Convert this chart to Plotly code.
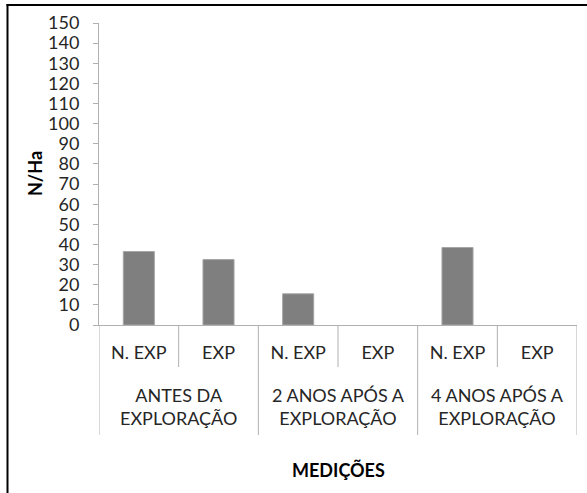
import plotly.graph_objects as go

group_labels = ["ANTES DA<br>EXPLORAÇÃO", "2 ANOS APÓS A<br>EXPLORAÇÃO", "4 ANOS APÓS A<br>EXPLORAÇÃO"]
subcats = ["N. EXP", "EXP", "N. EXP", "EXP", "N. EXP", "EXP"]
values = [36.5, 32.5, 15.5, 0, 38.5, 0]
y_ticks = list(range(0, 151, 10))

W, H = 587, 493
L, R, T, B = 99, 10, 23, 168
pw, ph = W - L - R, H - T - B

def px(x):
    return (x - L) / pw

def py(y):
    return (H - B - y) / ph

FONT = "Lato"
axis_col = "#b0b0b0"
text_col = "#262626"

n = len(subcats)
per_group = n // len(group_labels)
x_pos = list(range(n))

fig = go.Figure(go.Bar(
    x=x_pos, y=values,
    marker=dict(color="#7f7f7f",
                line=dict(color="#a6a6a6", width=[1 if v > 0 else 0 for v in values])),
    width=0.39,
    hoverinfo="skip",
))

shapes = []
# category boundaries
for i in range(n + 1):
    is_group = i % per_group == 0
    shapes.append(dict(type="line", xref="x", yref="paper", x0=i - 0.5, x1=i - 0.5,
                       y0=0, y1=py(435 if is_group else 367),
                       line=dict(color=axis_col, width=1)))
# outer frame (left and top edges only, as in the reference crop)
shapes.append(dict(type="line", xref="paper", yref="paper", x0=px(7.5), x1=px(7.5),
                   y0=py(4), y1=py(H + 2), line=dict(color="black", width=2)))
shapes.append(dict(type="line", xref="paper", yref="paper", x0=px(6.5), x1=px(W + 2),
                   y0=py(5), y1=py(5), line=dict(color="black", width=2)))

annotations = []
for g, lab in enumerate(group_labels):
    annotations.append(dict(text=lab, x=g * per_group + (per_group - 1) / 2, xref="x",
                            y=py(406.5), yref="paper", showarrow=False,
                            font=dict(family=FONT, size=18, color=text_col),
                            xanchor="center", yanchor="middle"))
annotations.append(dict(text="<b>N/Ha</b>", x=px(35), y=0.5, xref="paper", yref="paper",
                        textangle=-90, showarrow=False,
                        font=dict(family=FONT, size=18, color="#000"),
                        xanchor="center", yanchor="middle"))
annotations.append(dict(text="<b>MEDIÇÕES</b>", x=0.5, y=py(470), xref="paper", yref="paper",
                        showarrow=False, font=dict(family=FONT, size=18, color="#000"),
                        xanchor="center", yanchor="middle"))

fig.update_layout(
    width=W, height=H,
    margin=dict(l=L, r=R, t=T, b=B, autoexpand=False),
    paper_bgcolor="white", plot_bgcolor="white",
    showlegend=False,
    font=dict(family=FONT, size=18, color=text_col),
    xaxis=dict(
        range=[-0.5, n - 0.5], tickvals=x_pos, ticktext=subcats,
        showline=True, linecolor=axis_col, linewidth=1,
        ticks="", ticklabelstandoff=11,
        tickfont=dict(family=FONT, size=18, color=text_col),
        showgrid=False, zeroline=False, automargin=False,
    ),
    yaxis=dict(
        range=[0, 150], tickvals=y_ticks,
        showline=True, linecolor=axis_col, linewidth=1,
        ticks="outside", ticklen=5, tickcolor=axis_col,
        ticklabelstandoff=10,
        tickfont=dict(family=FONT, size=18, color=text_col),
        showgrid=False, zeroline=False, automargin=False,
    ),
    annotations=annotations,
    shapes=shapes,
)

fig.write_html("out.html", config={"displayModeBar": False},
               post_script="document.body.style.margin='0';")
